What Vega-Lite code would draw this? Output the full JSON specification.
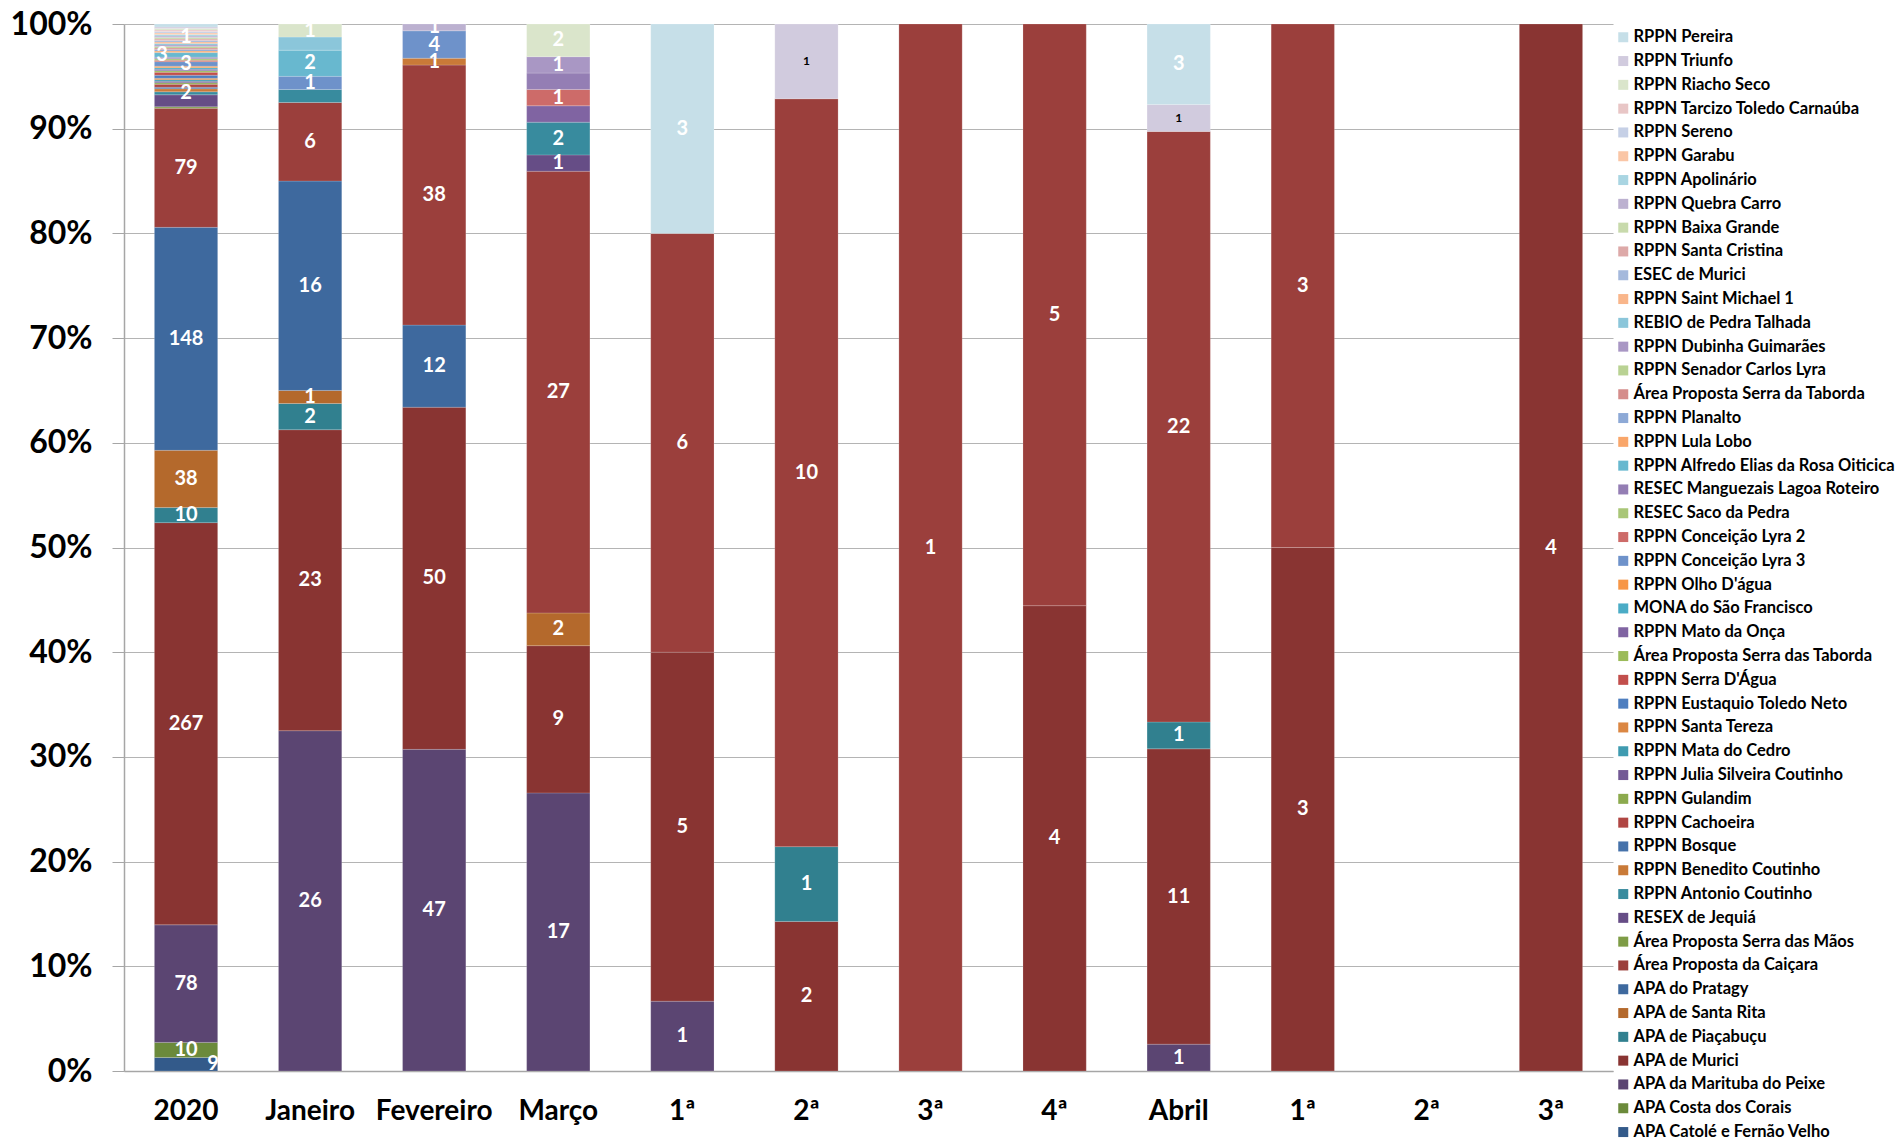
{
  "$schema": "https://vega.github.io/schema/vega-lite/v6.json",
  "width": 1489,
  "height": 1047,
  "padding": {"left": 10, "top": 8, "right": 0, "bottom": 0},
  "background": "white",
  "config": {
    "font": "Lato",
    "view": {"stroke": null},
    "axis": {"labelFont": "Lato", "labelFontWeight": "bold", "labelColor": "black"}
  },
  "data": {
    "values": [
      {"periodo": "2020", "serie": "APA Catolé e Fernão Velho", "valor": 9, "rotulo": true},
      {"periodo": "2020", "serie": "APA Costa dos Corais", "valor": 10, "rotulo": true},
      {"periodo": "2020", "serie": "APA da Marituba do Peixe", "valor": 78, "rotulo": true},
      {"periodo": "2020", "serie": "APA de Murici", "valor": 267, "rotulo": true},
      {"periodo": "2020", "serie": "APA de Piaçabuçu", "valor": 10, "rotulo": true},
      {"periodo": "2020", "serie": "APA de Santa Rita", "valor": 38, "rotulo": true},
      {"periodo": "2020", "serie": "APA do Pratagy", "valor": 148, "rotulo": true},
      {"periodo": "2020", "serie": "Área Proposta da Caiçara", "valor": 79, "rotulo": true},
      {"periodo": "2020", "serie": "Área Proposta Serra das Mãos", "valor": 1},
      {"periodo": "2020", "serie": "RESEX de Jequiá", "valor": 8},
      {"periodo": "2020", "serie": "RPPN Antonio Coutinho", "valor": 2, "rotulo": true},
      {"periodo": "2020", "serie": "RPPN Benedito Coutinho", "valor": 2},
      {"periodo": "2020", "serie": "RPPN Bosque", "valor": 1},
      {"periodo": "2020", "serie": "RPPN Cachoeira", "valor": 2},
      {"periodo": "2020", "serie": "RPPN Gulandim", "valor": 1},
      {"periodo": "2020", "serie": "RPPN Julia Silveira Coutinho", "valor": 1},
      {"periodo": "2020", "serie": "RPPN Mata do Cedro", "valor": 1},
      {"periodo": "2020", "serie": "RPPN Santa Tereza", "valor": 1},
      {"periodo": "2020", "serie": "RPPN Eustaquio Toledo Neto", "valor": 2},
      {"periodo": "2020", "serie": "RPPN Serra D'Água", "valor": 2},
      {"periodo": "2020", "serie": "Área Proposta Serra das Taborda", "valor": 1},
      {"periodo": "2020", "serie": "RPPN Mato da Onça", "valor": 1},
      {"periodo": "2020", "serie": "MONA do São Francisco", "valor": 1},
      {"periodo": "2020", "serie": "RPPN Olho D'água", "valor": 1},
      {"periodo": "2020", "serie": "RPPN Conceição Lyra 3", "valor": 3, "rotulo": true},
      {"periodo": "2020", "serie": "RPPN Conceição Lyra 2", "valor": 1},
      {"periodo": "2020", "serie": "RESEC Saco da Pedra", "valor": 1},
      {"periodo": "2020", "serie": "RESEC Manguezais Lagoa Roteiro", "valor": 1},
      {"periodo": "2020", "serie": "RPPN Alfredo Elias da Rosa Oiticica", "valor": 3, "rotulo": true},
      {"periodo": "2020", "serie": "RPPN Lula Lobo", "valor": 1},
      {"periodo": "2020", "serie": "RPPN Planalto", "valor": 1},
      {"periodo": "2020", "serie": "Área Proposta Serra da Taborda", "valor": 1},
      {"periodo": "2020", "serie": "RPPN Senador Carlos Lyra", "valor": 1},
      {"periodo": "2020", "serie": "RPPN Dubinha Guimarães", "valor": 1},
      {"periodo": "2020", "serie": "REBIO de Pedra Talhada", "valor": 1},
      {"periodo": "2020", "serie": "RPPN Saint Michael 1", "valor": 1},
      {"periodo": "2020", "serie": "ESEC de Murici", "valor": 1},
      {"periodo": "2020", "serie": "RPPN Santa Cristina", "valor": 1},
      {"periodo": "2020", "serie": "RPPN Baixa Grande", "valor": 1},
      {"periodo": "2020", "serie": "RPPN Quebra Carro", "valor": 1, "rotulo": true},
      {"periodo": "2020", "serie": "RPPN Apolinário", "valor": 1},
      {"periodo": "2020", "serie": "RPPN Garabu", "valor": 1},
      {"periodo": "2020", "serie": "RPPN Sereno", "valor": 1},
      {"periodo": "2020", "serie": "RPPN Tarcizo Toledo Carnaúba", "valor": 1},
      {"periodo": "2020", "serie": "RPPN Riacho Seco", "valor": 1},
      {"periodo": "2020", "serie": "RPPN Triunfo", "valor": 1},
      {"periodo": "2020", "serie": "RPPN Pereira", "valor": 2},

      {"periodo": "Janeiro", "serie": "APA da Marituba do Peixe", "valor": 26, "rotulo": true},
      {"periodo": "Janeiro", "serie": "APA de Murici", "valor": 23, "rotulo": true},
      {"periodo": "Janeiro", "serie": "APA de Piaçabuçu", "valor": 2, "rotulo": true},
      {"periodo": "Janeiro", "serie": "APA de Santa Rita", "valor": 1, "rotulo": true},
      {"periodo": "Janeiro", "serie": "APA do Pratagy", "valor": 16, "rotulo": true},
      {"periodo": "Janeiro", "serie": "Área Proposta da Caiçara", "valor": 6, "rotulo": true},
      {"periodo": "Janeiro", "serie": "RPPN Antonio Coutinho", "valor": 1},
      {"periodo": "Janeiro", "serie": "RPPN Conceição Lyra 3", "valor": 1, "rotulo": true},
      {"periodo": "Janeiro", "serie": "RPPN Alfredo Elias da Rosa Oiticica", "valor": 2, "rotulo": true},
      {"periodo": "Janeiro", "serie": "REBIO de Pedra Talhada", "valor": 1},
      {"periodo": "Janeiro", "serie": "RPPN Riacho Seco", "valor": 1, "rotulo": true},

      {"periodo": "Fevereiro", "serie": "APA da Marituba do Peixe", "valor": 47, "rotulo": true},
      {"periodo": "Fevereiro", "serie": "APA de Murici", "valor": 50, "rotulo": true},
      {"periodo": "Fevereiro", "serie": "APA do Pratagy", "valor": 12, "rotulo": true},
      {"periodo": "Fevereiro", "serie": "Área Proposta da Caiçara", "valor": 38, "rotulo": true},
      {"periodo": "Fevereiro", "serie": "RPPN Benedito Coutinho", "valor": 1, "rotulo": true},
      {"periodo": "Fevereiro", "serie": "RPPN Conceição Lyra 3", "valor": 4, "rotulo": true},
      {"periodo": "Fevereiro", "serie": "RPPN Quebra Carro", "valor": 1, "rotulo": true},

      {"periodo": "Março", "serie": "APA da Marituba do Peixe", "valor": 17, "rotulo": true},
      {"periodo": "Março", "serie": "APA de Murici", "valor": 9, "rotulo": true},
      {"periodo": "Março", "serie": "APA de Santa Rita", "valor": 2, "rotulo": true},
      {"periodo": "Março", "serie": "Área Proposta da Caiçara", "valor": 27, "rotulo": true},
      {"periodo": "Março", "serie": "RESEX de Jequiá", "valor": 1, "rotulo": true},
      {"periodo": "Março", "serie": "RPPN Antonio Coutinho", "valor": 2, "rotulo": true},
      {"periodo": "Março", "serie": "RPPN Mato da Onça", "valor": 1},
      {"periodo": "Março", "serie": "RPPN Conceição Lyra 2", "valor": 1, "rotulo": true},
      {"periodo": "Março", "serie": "RESEC Manguezais Lagoa Roteiro", "valor": 1},
      {"periodo": "Março", "serie": "RPPN Dubinha Guimarães", "valor": 1, "rotulo": true},
      {"periodo": "Março", "serie": "RPPN Riacho Seco", "valor": 2, "rotulo": true},

      {"periodo": "Março 1ª", "serie": "APA da Marituba do Peixe", "valor": 1, "rotulo": true},
      {"periodo": "Março 1ª", "serie": "APA de Murici", "valor": 5, "rotulo": true},
      {"periodo": "Março 1ª", "serie": "Área Proposta da Caiçara", "valor": 6, "rotulo": true},
      {"periodo": "Março 1ª", "serie": "RPPN Pereira", "valor": 3, "rotulo": true},

      {"periodo": "Março 2ª", "serie": "APA de Murici", "valor": 2, "rotulo": true},
      {"periodo": "Março 2ª", "serie": "APA de Piaçabuçu", "valor": 1, "rotulo": true},
      {"periodo": "Março 2ª", "serie": "Área Proposta da Caiçara", "valor": 10, "rotulo": true},
      {"periodo": "Março 2ª", "serie": "RPPN Triunfo", "valor": 1, "rotulo": true},

      {"periodo": "Março 3ª", "serie": "Área Proposta da Caiçara", "valor": 1, "rotulo": true},

      {"periodo": "Março 4ª", "serie": "APA de Murici", "valor": 4, "rotulo": true},
      {"periodo": "Março 4ª", "serie": "Área Proposta da Caiçara", "valor": 5, "rotulo": true},

      {"periodo": "Abril", "serie": "APA da Marituba do Peixe", "valor": 1, "rotulo": true},
      {"periodo": "Abril", "serie": "APA de Murici", "valor": 11, "rotulo": true},
      {"periodo": "Abril", "serie": "APA de Piaçabuçu", "valor": 1, "rotulo": true},
      {"periodo": "Abril", "serie": "Área Proposta da Caiçara", "valor": 22, "rotulo": true},
      {"periodo": "Abril", "serie": "RPPN Triunfo", "valor": 1, "rotulo": true},
      {"periodo": "Abril", "serie": "RPPN Pereira", "valor": 3, "rotulo": true},

      {"periodo": "Abril 1ª", "serie": "APA de Murici", "valor": 3, "rotulo": true},
      {"periodo": "Abril 1ª", "serie": "Área Proposta da Caiçara", "valor": 3, "rotulo": true},

      {"periodo": "Abril 3ª", "serie": "APA de Murici", "valor": 4, "rotulo": true}
    ]
  },
  "transform": [
    {"calculate": "indexof(['APA Catolé e Fernão Velho','APA Costa dos Corais','APA da Marituba do Peixe','APA de Murici','APA de Piaçabuçu','APA de Santa Rita','APA do Pratagy','Área Proposta da Caiçara','Área Proposta Serra das Mãos','RESEX de Jequiá','RPPN Antonio Coutinho','RPPN Benedito Coutinho','RPPN Bosque','RPPN Cachoeira','RPPN Gulandim','RPPN Julia Silveira Coutinho','RPPN Mata do Cedro','RPPN Santa Tereza','RPPN Eustaquio Toledo Neto',\"RPPN Serra D'Água\",'Área Proposta Serra das Taborda','RPPN Mato da Onça','MONA do São Francisco',\"RPPN Olho D'água\",'RPPN Conceição Lyra 3','RPPN Conceição Lyra 2','RESEC Saco da Pedra','RESEC Manguezais Lagoa Roteiro','RPPN Alfredo Elias da Rosa Oiticica','RPPN Lula Lobo','RPPN Planalto','Área Proposta Serra da Taborda','RPPN Senador Carlos Lyra','RPPN Dubinha Guimarães','REBIO de Pedra Talhada','RPPN Saint Michael 1','ESEC de Murici','RPPN Santa Cristina','RPPN Baixa Grande','RPPN Quebra Carro','RPPN Apolinário','RPPN Garabu','RPPN Sereno','RPPN Tarcizo Toledo Carnaúba','RPPN Riacho Seco','RPPN Triunfo','RPPN Pereira'], datum.serie)", "as": "ordem"},
    {"stack": "valor", "groupby": ["periodo"], "sort": [{"field": "ordem", "order": "ascending"}], "offset": "normalize", "as": ["y0", "y1"]},
    {"calculate": "(datum.y0 + datum.y1) / 2", "as": "ymeio"}
  ],
  "encoding": {
    "x": {
      "field": "periodo",
      "type": "nominal",
      "sort": null,
      "scale": {
        "domain": ["2020", "Janeiro", "Fevereiro", "Março", "Março 1ª", "Março 2ª", "Março 3ª", "Março 4ª", "Abril", "Abril 1ª", "Abril 2ª", "Abril 3ª"],
        "paddingInner": 0.49,
        "paddingOuter": 0.245
      },
      "axis": {
        "title": null,
        "labelAngle": 0,
        "labelFontSize": 28,
        "labelPadding": 26,
        "ticks": false,
        "domainColor": "#A6A6A6",
        "domainWidth": 1.5,
        "labelExpr": "indexof(datum.label, ' ') > 0 ? split(datum.label, ' ')[1] : datum.label"
      }
    }
  },
  "layer": [
    {
      "mark": {"type": "bar", "stroke": "#ffffff", "strokeWidth": 0.8, "strokeOpacity": 0.22},
      "encoding": {
        "y": {
          "field": "y0",
          "type": "quantitative",
          "scale": {"domain": [0, 1], "nice": false},
          "axis": {
            "title": null,
            "format": ".0%",
            "values": [0, 0.1, 0.2, 0.3, 0.4, 0.5, 0.6, 0.7, 0.8, 0.9, 1],
            "labelFontSize": 32,
            "labelPadding": 20,
            "tickSize": 12,
            "tickColor": "#A6A6A6",
            "domainColor": "#A6A6A6",
            "domainWidth": 1.5,
            "grid": true,
            "gridColor": "#B4B4B4",
            "gridWidth": 1.2
          }
        },
        "y2": {"field": "y1"},
        "color": {
          "field": "serie",
          "type": "nominal",
          "scale": {
            "domain": ["RPPN Pereira","RPPN Triunfo","RPPN Riacho Seco","RPPN Tarcizo Toledo Carnaúba","RPPN Sereno","RPPN Garabu","RPPN Apolinário","RPPN Quebra Carro","RPPN Baixa Grande","RPPN Santa Cristina","ESEC de Murici","RPPN Saint Michael 1","REBIO de Pedra Talhada","RPPN Dubinha Guimarães","RPPN Senador Carlos Lyra","Área Proposta Serra da Taborda","RPPN Planalto","RPPN Lula Lobo","RPPN Alfredo Elias da Rosa Oiticica","RESEC Manguezais Lagoa Roteiro","RESEC Saco da Pedra","RPPN Conceição Lyra 2","RPPN Conceição Lyra 3","RPPN Olho D'água","MONA do São Francisco","RPPN Mato da Onça","Área Proposta Serra das Taborda","RPPN Serra D'Água","RPPN Eustaquio Toledo Neto","RPPN Santa Tereza","RPPN Mata do Cedro","RPPN Julia Silveira Coutinho","RPPN Gulandim","RPPN Cachoeira","RPPN Bosque","RPPN Benedito Coutinho","RPPN Antonio Coutinho","RESEX de Jequiá","Área Proposta Serra das Mãos","Área Proposta da Caiçara","APA do Pratagy","APA de Santa Rita","APA de Piaçabuçu","APA de Murici","APA da Marituba do Peixe","APA Costa dos Corais","APA Catolé e Fernão Velho"],
            "range": ["#C6DFE8","#D1CBDE","#DAE5CB","#E8C6C6","#C6D0E6","#FAC6A6","#A9D5E2","#BCB1D0","#C8DAAC","#DDA9A8","#A5B9DC","#F9B68B","#8BC6DA","#A997C4","#B9D293","#D58D8B","#8DA9D6","#F9A66A","#68B8CF","#947EB4","#A9C677","#CD6B69","#6E92CA","#F79646","#4BACC6","#8064A2","#9BBB59","#C24F4C","#4E7EBF","#DB8743","#3F9BB0","#735A95","#8CAA4E","#B04643","#4672AA","#C97A38","#388B9E","#664D86","#7E9C46","#9B3F3C","#3E699E","#B4692C","#31808F","#893432","#5B4572","#6B8A3B","#335A8A"]
          },
          "legend": {
            "title": null,
            "orient": "right",
            "offset": -3,
            "padding": 5,
            "symbolType": "square",
            "symbolSize": 100,
            "symbolStrokeWidth": 0,
            "labelFont": "Lato",
            "labelFontWeight": "bold",
            "labelFontSize": 16.5,
            "labelColor": "black",
            "labelLimit": 320,
            "labelOffset": 2,
            "rowPadding": 6.8,
            "symbolLimit": 60
          }
        }
      }
    },
    {
      "transform": [
        {"filter": "datum.rotulo"},
        {"filter": "!(datum.periodo === '2020' && (datum.serie === 'RPPN Alfredo Elias da Rosa Oiticica' || datum.serie === 'APA Catolé e Fernão Velho'))"}
      ],
      "mark": {"type": "text", "font": "Lato", "fontWeight": "bold", "align": "center", "baseline": "middle"},
      "encoding": {
        "y": {"field": "ymeio", "type": "quantitative"},
        "text": {"field": "valor", "type": "quantitative"},
        "color": {"condition": {"test": "datum.serie === 'RPPN Triunfo'", "value": "black"}, "value": "white"},
        "size": {"condition": {"test": "datum.serie === 'RPPN Triunfo'", "value": 12}, "value": 20}
      }
    },
    {
      "transform": [
        {"filter": "datum.periodo === '2020' && datum.serie === 'RPPN Alfredo Elias da Rosa Oiticica'"}
      ],
      "mark": {"type": "text", "font": "Lato", "fontWeight": "bold", "align": "center", "baseline": "middle", "dx": -24, "fontSize": 20, "color": "white"},
      "encoding": {
        "y": {"field": "ymeio", "type": "quantitative"},
        "text": {"field": "valor", "type": "quantitative"}
      }
    },
    {
      "transform": [
        {"filter": "datum.periodo === '2020' && datum.serie === 'APA Catolé e Fernão Velho'"}
      ],
      "mark": {"type": "text", "font": "Lato", "fontWeight": "bold", "align": "center", "baseline": "middle", "dx": 27, "fontSize": 20, "color": "white"},
      "encoding": {
        "y": {"field": "ymeio", "type": "quantitative"},
        "text": {"field": "valor", "type": "quantitative"}
      }
    }
  ]
}
